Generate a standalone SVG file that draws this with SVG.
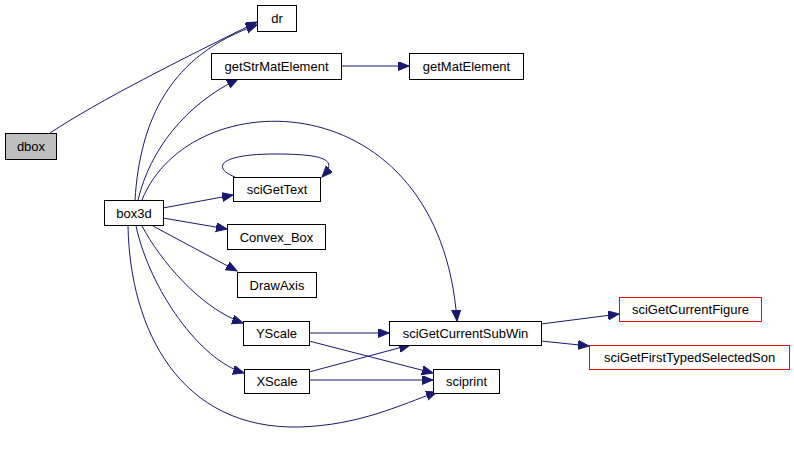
<svg xmlns="http://www.w3.org/2000/svg" width="794" height="451" viewBox="0 0 794 451">
<defs>
<marker id="ah" markerUnits="userSpaceOnUse" markerWidth="12" markerHeight="10" refX="11" refY="4.5" orient="auto">
<path d="M0,0 L11,4.5 L0,9 Z" fill="#191970" stroke="#191970" stroke-width="1"/>
</marker>
<style>
.n rect{fill:#fff;stroke:#000;stroke-width:1}
.n.r rect{stroke:#ff0000}
.n.g rect{fill:#bfbfbf}
.n text{font-family:"Liberation Sans",Arial,sans-serif;font-size:13px;text-anchor:middle;fill:#000}
#edges path{fill:none;stroke:#191970;stroke-width:1;marker-end:url(#ah)}
</style>
</defs>
<rect width="794" height="451" fill="#fff"/>
<g id="edges">
<path d="M50,133 C100,100 180,60 257,22"/>
<path d="M135,200 C140,120 170,55 257,25"/>
<path d="M138,200 C150,150 185,105 238,79"/>
<path d="M142,200 C190,80 440,80 457,321"/>
<path d="M235,177 C212,168 218,154 275,154 C332,154 336,162 322,177"/>
<path d="M163,208 L233,195"/>
<path d="M163,218 L227,229"/>
<path d="M153,226 L237,271"/>
<path d="M142,226 C160,260 200,308 243,323"/>
<path d="M136,226 C150,290 200,360 244,373"/>
<path d="M128,226 C130,330 180,430 300,427 C360,425 400,405 437,392"/>
<path d="M341,66 L409,66"/>
<path d="M309,333 L389,333"/>
<path d="M309,341 L433,373"/>
<path d="M309,372 L410,345"/>
<path d="M309,380 L433,380"/>
<path d="M541,324 L619,314"/>
<path d="M541,341 L589,346"/>
</g>
<g id="dbox" class="n g"><rect x="5.5" y="133.5" width="51" height="26"/><text x="31" y="151">dbox</text></g>
<g id="dr" class="n"><rect x="257.5" y="5.5" width="39" height="26"/><text x="277" y="23">dr</text></g>
<g id="getStrMatElement" class="n"><rect x="211.5" y="53.5" width="130" height="26"/><text x="276.5" y="71">getStrMatElement</text></g>
<g id="getMatElement" class="n"><rect x="409.5" y="53.5" width="114" height="26"/><text x="466.5" y="71">getMatElement</text></g>
<g id="box3d" class="n"><rect x="104.5" y="200.5" width="59" height="25"/><text x="134" y="218">box3d</text></g>
<g id="sciGetText" class="n"><rect x="233.5" y="177.5" width="87" height="24"/><text x="277" y="194">sciGetText</text></g>
<g id="Convex_Box" class="n"><rect x="227.5" y="224.5" width="98" height="25"/><text x="276.5" y="242">Convex_Box</text></g>
<g id="DrawAxis" class="n"><rect x="237.5" y="272.5" width="79" height="25"/><text x="277" y="290">DrawAxis</text></g>
<g id="YScale" class="n"><rect x="243.5" y="321.5" width="66" height="24"/><text x="276.5" y="338">YScale</text></g>
<g id="XScale" class="n"><rect x="244.5" y="369.5" width="65" height="24"/><text x="277" y="386">XScale</text></g>
<g id="sciGetCurrentSubWin" class="n"><rect x="389.5" y="321.5" width="152" height="24"/><text x="465.5" y="338">sciGetCurrentSubWin</text></g>
<g id="sciprint" class="n"><rect x="433.5" y="369.5" width="66" height="24"/><text x="466.5" y="386">sciprint</text></g>
<g id="sciGetCurrentFigure" class="n r"><rect x="619.5" y="297.5" width="142" height="24"/><text x="690.5" y="314">sciGetCurrentFigure</text></g>
<g id="sciGetFirstTypedSelectedSon" class="n r"><rect x="589.5" y="345.5" width="200" height="24"/><text x="689.5" y="362">sciGetFirstTypedSelectedSon</text></g>
</svg>
